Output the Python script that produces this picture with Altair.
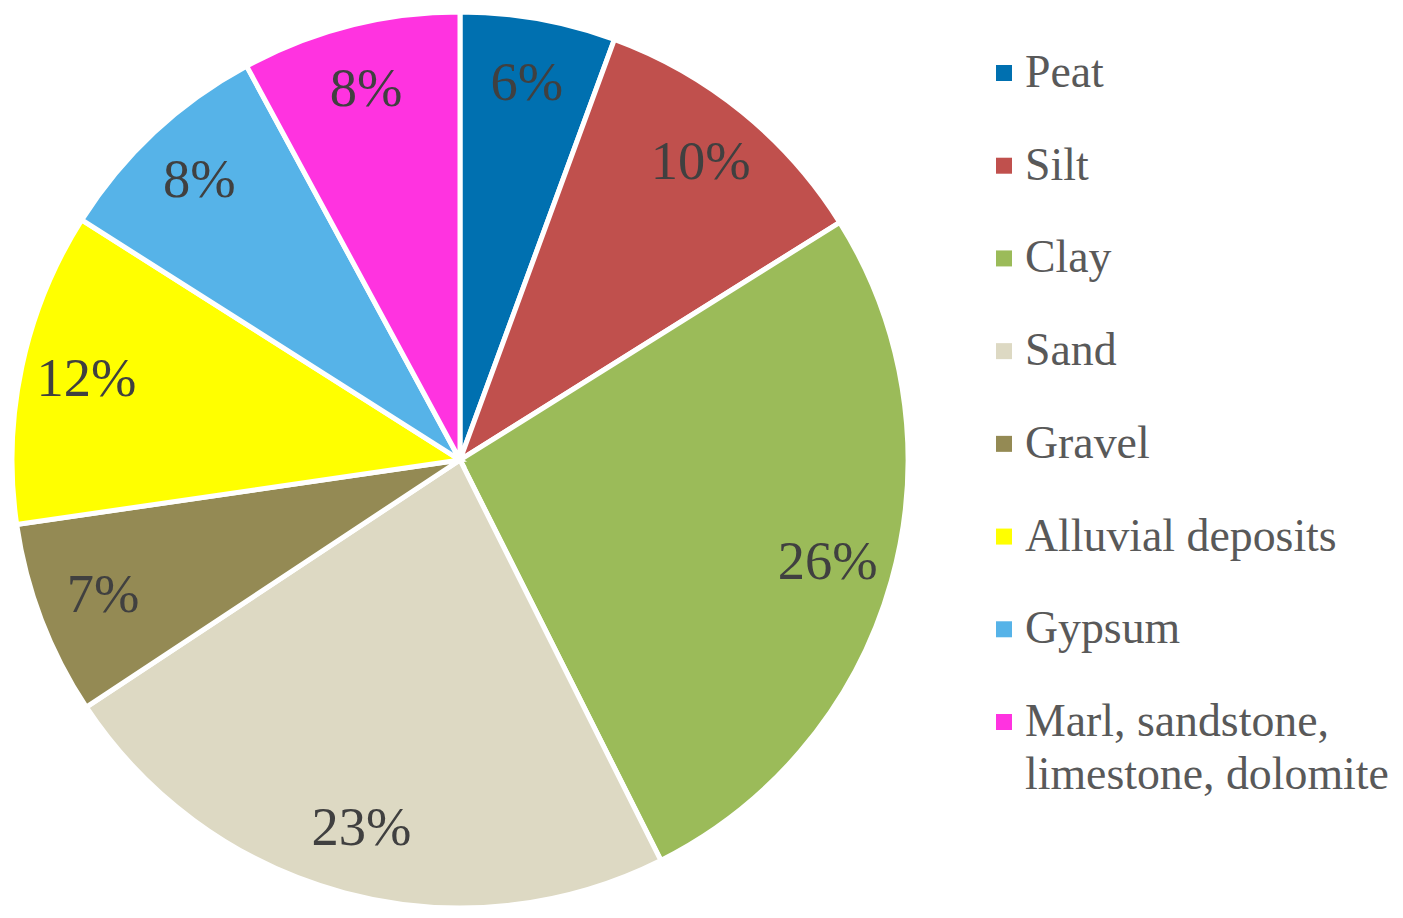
import altair as alt
import pandas as pd

categories = ["Peat", "Silt", "Clay", "Sand", "Gravel", "Alluvial deposits", "Gypsum",
              "Marl, sandstone, limestone, dolomite"]
shares = [5.6, 10.5, 26.5, 23.1, 7.0, 11.3, 8.1, 7.9]
pct_labels = ["6%", "10%", "26%", "23%", "7%", "12%", "8%", "8%"]
legend_text = ["Peat", "Silt", "Clay", "Sand", "Gravel", "Alluvial deposits", "Gypsum",
               "Marl, sandstone,\nlimestone, dolomite"]
colors = ["#0070B0", "#C0504D", "#9BBB59", "#DDD9C3", "#948A54", "#FFFF00", "#56B3E8", "#FF33E0"]

df = pd.DataFrame({
    "category": categories,
    "share": shares,
    "label": pct_labels,
    "legend": legend_text,
    "order": list(range(len(categories))),
})

cx, cy = 452, 452
color = alt.Color("category:N", scale=alt.Scale(domain=categories, range=colors), legend=None)

base = alt.Chart(df).encode(
    theta=alt.Theta("share:Q", stack=True),
    order=alt.Order("order:Q"),
    x=alt.value(cx),
    y=alt.value(cy),
)
arcs = base.mark_arc(radius=448, stroke="white", strokeWidth=5).encode(color=color)
texts = base.mark_text(radius=382, font="Liberation Serif", fontSize=54.5, color="#404040",
                       baseline="middle", align="center").encode(text="label:N")

ly = alt.Y("order:Q", scale=alt.Scale(domain=[0, 7], range=[65, 714]), axis=None)
leg_sym = alt.Chart(df).mark_point(shape="square", filled=True, size=256, opacity=1).encode(
    x=alt.value(996), y=ly, color=color)
leg_txt = alt.Chart(df).mark_text(align="left", baseline="alphabetic", dy=14, lineBreak="\n",
                                  lineHeight=53, font="Liberation Serif", fontSize=45.8,
                                  color="#595959").encode(
    x=alt.value(1017), y=ly, text="legend:N")

chart = alt.layer(arcs, texts, leg_sym, leg_txt).properties(
    width=1387, height=902, autosize=alt.AutoSizeParams(type="none"), padding=0,
    background="white",
).configure_view(stroke=None)

chart.save("out.html", embed_options={"renderer": "svg", "actions": False})
